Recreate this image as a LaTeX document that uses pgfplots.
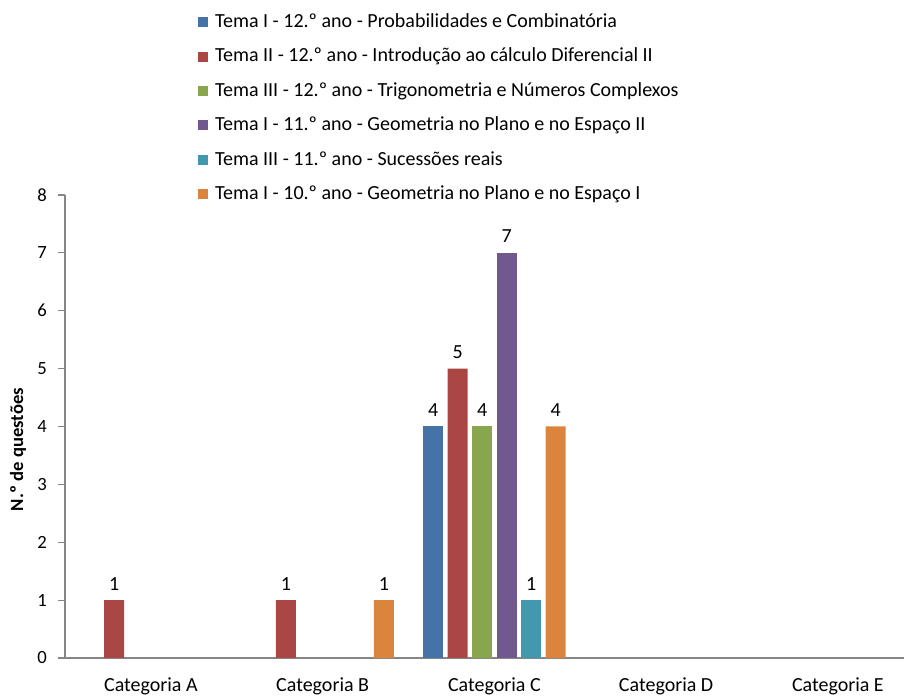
\documentclass[border=0pt]{standalone}
\usepackage{pgfplots}
\pgfplotsset{compat=1.18}
\usepackage{fontspec}
\setmainfont{Carlito}
\usetikzlibrary{calc}
\definecolor{cA}{HTML}{4572A7}
\definecolor{cB}{HTML}{AA4643}
\definecolor{cC}{HTML}{89A54E}
\definecolor{cD}{HTML}{71588F}
\definecolor{cE}{HTML}{4198AF}
\definecolor{cF}{HTML}{DB843D}
\definecolor{axgray}{HTML}{868686}
\begin{document}
\begin{tikzpicture}
\begin{axis}[name=ax,
  scale only axis, width=629.25pt, height=347.25pt,
  xmin=-0.5, xmax=4.385, ymin=0, ymax=8,
  axis x line=bottom, axis y line=left,
  axis line style={-, draw=axgray, line width=0.9pt},
  ytick={0,...,8}, xtick={0,...,4},
  xticklabels={Categoria A,Categoria B,Categoria C,Categoria D,Categoria E},
  x tick style={draw=none},
  y tick style={draw=axgray, line width=0.9pt},
  tick align=outside, major tick length=5pt,
  /pgf/number format/assume math mode=true,
  yticklabel style={font=\fontsize{14pt}{16pt}\selectfont, xshift=-5pt},
  xticklabel style={font=\fontsize{15pt}{18pt}\selectfont, yshift=-6pt},
  ylabel={\textbf{N.º de questões}},
  ylabel style={font=\fontsize{14pt}{16pt}\selectfont, at={(axis description cs:-0.056,0.45)}, anchor=center},
  ybar, bar width=15pt,
  nodes near coords,
  every node near coord/.append style={font=\fontsize{15pt}{18pt}\selectfont, yshift=4pt},
  legend cell align=left,
  legend style={at={(rel axis cs:0.158,1.394)}, anchor=north west, draw=none, fill=none,
    inner sep=0pt, row sep=11.8pt,
    font=\fontsize{15pt}{18pt}\selectfont,
    nodes={inner sep=0pt, text height=11pt, text depth=3pt},
    /tikz/every odd column/.append style={column sep=5.5pt}},
  legend image code/.code={\fill[#1] (0pt,-3.75pt) rectangle (7.5pt,3.75pt);},
]
\addplot[fill=cA, draw=none, bar shift=-45.9375pt] coordinates {(2,4)};
\addplot[fill=cB, draw=none, bar shift=-27.5625pt] coordinates {(0,1) (1,1) (2,5)};
\addplot[fill=cC, draw=none, bar shift=-9.1875pt] coordinates {(2,4)};
\addplot[fill=cD, draw=none, bar shift=9.1875pt] coordinates {(2,7)};
\addplot[fill=cE, draw=none, bar shift=27.5625pt] coordinates {(2,1)};
\addplot[fill=cF, draw=none, bar shift=45.9375pt] coordinates {(1,1) (2,4)};
\legend{Tema I - 12.º ano - Probabilidades e Combinatória,
Tema II - 12.º ano - Introdução ao cálculo Diferencial II,
Tema III - 12.º ano - Trigonometria e Números Complexos,
Tema I - 11.º ano - Geometria no Plano e no Espaço II,
Tema III - 11.º ano - Sucessões reais,
Tema I - 10.º ano - Geometria no Plano e no Espaço I}
\end{axis}
\pgfresetboundingbox
\path ($(ax.south west)+(-48.75pt,-28.5pt)$) rectangle ($(ax.north east)+(0pt,146.25pt)$);
\end{tikzpicture}
\end{document}
